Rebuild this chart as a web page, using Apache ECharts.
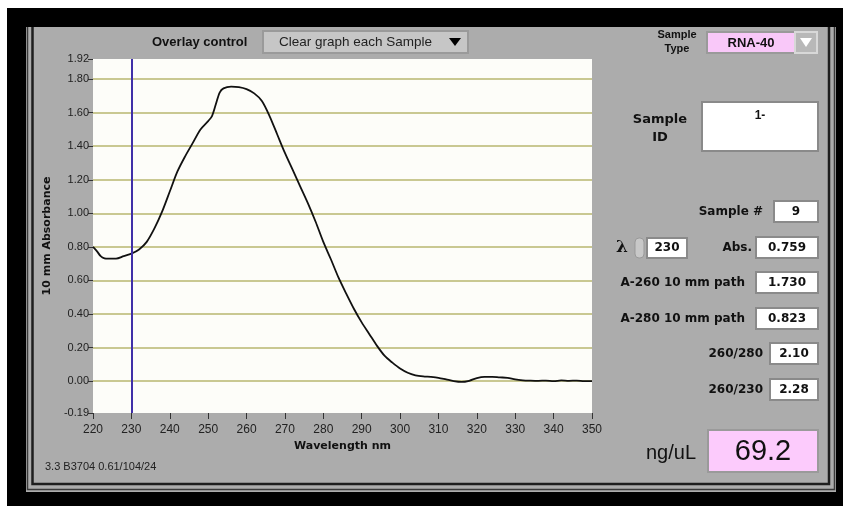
<!DOCTYPE html>
<html><head><meta charset="utf-8">
<script src="https://cdn.jsdelivr.net/npm/echarts@6/dist/echarts.min.js"></script>
<style>html,body{margin:0;padding:0;background:#fff}#c{width:843px;height:506px}</style>
</head><body><div id="c"></div>
<script>
// ---- data ----
const wavelengths = [220,221,222,223,224,226,228,230,232,234,236,238,240,242,244,246,248,250,251,252,253,254,256,258,260,262,264,266,268,270,272,274,276,278,280,282,284,286,288,290,292,294,296,298,300,302,304,306,308,310,312,314,316,318,320,322,324,326,328,330,332,334,336,338,340,342,344,346,348,350];
const absorbance  = [0.80,0.775,0.745,0.732,0.73,0.73,0.745,0.76,0.785,0.83,0.91,1.01,1.13,1.25,1.34,1.42,1.50,1.55,1.58,1.65,1.72,1.745,1.755,1.752,1.74,1.715,1.67,1.58,1.47,1.36,1.26,1.16,1.06,0.95,0.83,0.725,0.615,0.52,0.43,0.35,0.28,0.21,0.15,0.11,0.075,0.05,0.035,0.028,0.025,0.02,0.01,0.0,-0.005,0.002,0.018,0.025,0.025,0.022,0.02,0.01,0.005,0.003,0.002,0.003,0.0,0.004,0.002,0.003,0.0,0.0];
const yTickValues = [-0.19,0,0.2,0.4,0.6,0.8,1.0,1.2,1.4,1.6,1.8,1.92];
const gridValues  = [0,0.2,0.4,0.6,0.8,1.0,1.2,1.4,1.6,1.8];
const selectedWavelength = 230;
const readoutLabels = ['Sample #','Abs.','A-260 10 mm path','A-280 10 mm path','260/280','260/230'];
const readoutValues = ['9','0.759','1.730','0.823','2.10','2.28'];
const lambdaValue = '230';
const sampleType = 'RNA-40';
const sampleId = '1-';
const concentration = '69.2';

const F = '"Liberation Sans", Arial, sans-serif';
const FD = '"DejaVu Sans", Verdana, sans-serif';

function txt(x, y, text, font, align, fill) {
  return {type:'text', x:x, y:y, z:10, silent:true,
    style:{text:text, font:font, fill:fill||'#111', textAlign:align||'left', textVerticalAlign:'middle'}};
}
function box(x, y, w, h, fill, stroke) {
  return {type:'rect', z:8, silent:true, shape:{x:x,y:y,width:w,height:h},
    style:{fill:fill||'#fff', stroke:stroke||'#8a8a8a', lineWidth:2}};
}

const graphics = [
  {type:'rect', z:-30, silent:true, shape:{x:0,y:0,width:843,height:506}, style:{fill:'#ffffff'}},
  {type:'rect', z:-29, silent:true, shape:{x:7,y:8,width:836,height:498}, style:{fill:'#000000'}},
  {type:'rect', z:-28, silent:true, shape:{x:26,y:27,width:810,height:465}, style:{fill:'#acacac'}},
  {type:'polyline', z:-27, silent:true, shape:{points:[[27.5,27],[27.5,489.5],[834.5,489.5],[834.5,27]]}, style:{stroke:'#3a3a3a', lineWidth:1.5, fill:null}},
  {type:'polyline', z:-27, silent:true, shape:{points:[[32.5,27],[32.5,484],[829,484],[829,27]]}, style:{stroke:'#1e1e1e', lineWidth:2.5, fill:null}},
  // overlay control
  txt(152, 42, 'Overlay control', 'bold 13px ' + F),
  box(263, 31, 205, 22, '#c6c6c6', '#9a9a9a'),
  txt(279, 42, 'Clear graph each Sample', '13.5px ' + F, 'left', '#222'),
  {type:'polygon', z:10, silent:true, shape:{points:[[449,38],[461,38],[455,46]]}, style:{fill:'#000'}},
  // sample type
  txt(677, 35, 'Sample', 'bold 11px ' + F, 'center'),
  txt(677, 49, 'Type', 'bold 11px ' + F, 'center'),
  box(707, 32, 88, 21, '#f9c8f9', '#9a9a9a'),
  txt(751, 43, sampleType, 'bold 13px ' + F, 'center'),
  box(795, 32, 22, 21, '#b8b8b8', '#d8d8d8'),
  {type:'polygon', z:10, silent:true, shape:{points:[[800,38],[812,38],[806,47]]}, style:{fill:'#fff'}},
  // sample id
  txt(660, 120, 'Sample', 'bold 13px ' + FD, 'center'),
  txt(660, 138, 'ID', 'bold 13px ' + FD, 'center'),
  box(702, 102, 116, 49),
  txt(760, 116, sampleId, 'bold 12px ' + F, 'center'),
  // readouts
  txt(763, 212, readoutLabels[0], 'bold 12px ' + FD, 'right'),
  box(774, 201, 44, 21), txt(796, 212, readoutValues[0], 'bold 12px ' + FD, 'center'),
  txt(622, 248, 'λ', 'bold 17px "DejaVu Serif", serif', 'center'),
  {type:'rect', z:8, silent:true, shape:{x:635,y:238,width:9,height:20,r:4}, style:{fill:'#c8c8c8', stroke:'#999', lineWidth:1}},
  box(647, 238, 40, 20), txt(667, 248, lambdaValue, 'bold 12px ' + FD, 'center'),
  txt(752, 248, readoutLabels[1], 'bold 12px ' + FD, 'right'),
  box(756, 237, 62, 21), txt(787, 248, readoutValues[1], 'bold 12px ' + FD, 'center'),
  txt(745, 283, readoutLabels[2], 'bold 12px ' + FD, 'right'),
  box(756, 272, 62, 21), txt(787, 283, readoutValues[2], 'bold 12px ' + FD, 'center'),
  txt(745, 319, readoutLabels[3], 'bold 12px ' + FD, 'right'),
  box(756, 308, 62, 21), txt(787, 319, readoutValues[3], 'bold 12px ' + FD, 'center'),
  txt(763, 354, readoutLabels[4], 'bold 12px ' + FD, 'right'),
  box(770, 343, 48, 21), txt(794, 354, readoutValues[4], 'bold 12px ' + FD, 'center'),
  txt(763, 390, readoutLabels[5], 'bold 12px ' + FD, 'right'),
  box(770, 379, 48, 21), txt(794, 390, readoutValues[5], 'bold 12px ' + FD, 'center'),
  // concentration
  txt(671, 453, 'ng/uL', '20px ' + F, 'center'),
  box(708, 430, 110, 42, '#fccbfc', '#9a9a9a'),
  txt(763, 452, concentration, '29px ' + F, 'center'),
  // footer
  txt(45, 467, '3.3 B3704 0.61/104/24', '11px ' + F, 'left', '#222')
];

const chart = echarts.init(document.getElementById('c'), null, {renderer:'canvas'});
chart.setOption({
  backgroundColor: 'transparent',
  animation: false,
  graphic: graphics,
  grid: {left:93, top:59, width:499, height:354, show:true, backgroundColor:'#fdfdf9', borderWidth:0, containLabel:false},
  xAxis: {
    type:'value', min:220, max:350, interval:10,
    name:'Wavelength nm', nameLocation:'middle', nameGap:28,
    nameTextStyle:{fontWeight:'bold', fontSize:11, fontFamily:FD, color:'#111'},
    axisLine:{show:false, onZero:false},
    axisTick:{show:true, length:6, lineStyle:{color:'#333', width:1}},
    axisLabel:{fontSize:12, fontFamily:F, color:'#222', margin:11},
    splitLine:{show:false}
  },
  yAxis: {
    type:'value', min:-0.19, max:1.92,
    name:'10 mm Absorbance', nameLocation:'middle', nameGap:39, nameRotate:90,
    nameTextStyle:{fontWeight:'bold', fontSize:11, fontFamily:FD, color:'#111'},
    axisLine:{show:false, onZero:false},
    axisTick:{show:true, length:5, customValues:yTickValues, lineStyle:{color:'#333', width:1}},
    axisLabel:{fontSize:11, fontFamily:F, color:'#222', margin:4, customValues:yTickValues,
      formatter:function(v){ return v.toFixed(2); }},
    splitLine:{show:false}
  },
  series: [
    {
      type:'line', z:1, data:[[220, 0]], symbol:'none', lineStyle:{opacity:0}, silent:true,
      markLine:{z:1, silent:true, symbol:'none', label:{show:false}, animation:false,
        lineStyle:{color:'#c9c892', width:2, type:'solid'},
        data: gridValues.map(function(v){ return {yAxis:v}; })}
    },
    {
      type:'line', z:3, symbol:'none', smooth:0.3,
      data: wavelengths.map(function(w,i){ return [w, absorbance[i]]; }),
      lineStyle:{color:'#111', width:1.8},
      markLine:{z:4, silent:true, symbol:'none', label:{show:false}, animation:false,
        lineStyle:{color:'#4030a8', width:2, type:'solid'},
        data:[{xAxis:selectedWavelength}]}
    }
  ]
});
</script></body></html>
